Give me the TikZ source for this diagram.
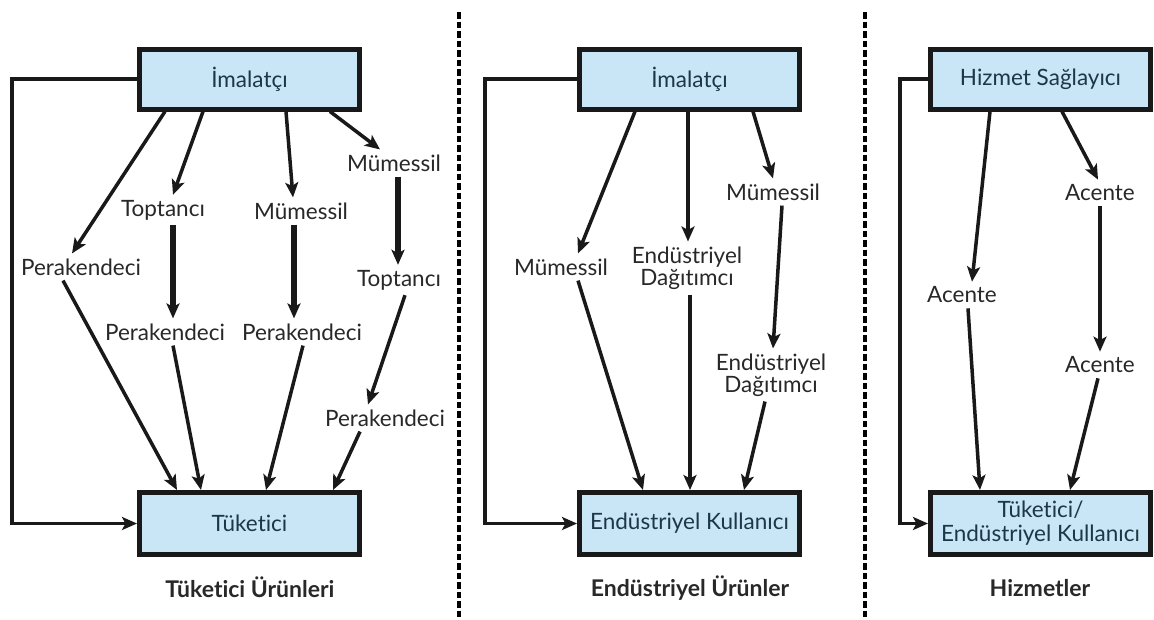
\documentclass[tikz,border=0pt]{standalone}
\usepackage{fontspec}
\setmainfont{Lato}[Ligatures=NoCommon]
\usepackage{xcolor}
\usepackage{tikz}
\usetikzlibrary{arrows.meta,positioning}
\definecolor{boxblue}{RGB}{200,230,246}
\definecolor{boxtext}{RGB}{30,55,70}
\definecolor{labeltext}{RGB}{40,40,40}

\begin{document}
\begin{tikzpicture}[x=1pt, y=-1pt, >={Stealth[length=15pt,width=13pt,inset=3.5pt]},
    chanbox/.style={draw=black!90, line width=5pt, fill=boxblue, minimum width=220pt, minimum height=60pt, text=boxtext, align=center, inner sep=2pt, font=\fontsize{22.5}{24}\selectfont},
    member/.style={text=labeltext, align=center, inner sep=5pt, font=\fontsize{22.5}{22}\selectfont},
    grouptitle/.style={text=labeltext, font=\bfseries\fontsize{23}{25}\selectfont},
    flow/.style={->, draw=black!90, line width=3.5pt},
    bigflow/.style={->, draw=black!90, line width=5.5pt},
    divider/.style={line width=4.5pt, dash pattern=on 6.5pt off 3pt}]
        \useasboundingbox (0,0) rectangle (1154,619);

        % Dividers between the three channel groups
        \draw[divider] (459,12) -- (459,619);
        \draw[divider] (865,12) -- (865,619);

        % Tuketici Urunleri
        \node[chanbox] (imA) at (249.5,79) {İmalatçı};
        \node[chanbox, minimum height=62pt] (tuA) at (249.5,523.5) {Tüketici};
        \node[member] (peA1) at (81,267) {Perakendeci};
        \node[member] (toA1) at (163,210) {Toptancı};
        \node[member] (muA1) at (301,211) {Mümessil};
        \node[member] (muA2) at (394,163) {Mümessil};
        \node[member] (toA2) at (399,280) {Toptancı};
        \node[member] (peA2) at (165,332) {Perakendeci};
        \node[member] (peA3) at (302,332) {Perakendeci};
        \node[member] (peA4) at (385,418) {Perakendeci};
        \node[grouptitle] (tiA) at (250,587) {Tüketici Ürünleri};

        \draw[flow] ([xshift=-84.5pt]imA.south) -- ([xshift=-9pt]peA1.north);
        \draw[flow] ([xshift=-46.5pt]imA.south) -- ([xshift=10pt]toA1.north);
        \draw[flow] ([xshift=36.5pt]imA.south) -- ([xshift=-8pt]muA1.north);
        \draw[flow] ([xshift=80.5pt]imA.south) -- ([xshift=-14pt]muA2.north);
        \draw[bigflow] ([xshift=10pt]toA1.south) -- ([xshift=8pt]peA2.north);
        \draw[bigflow] ([xshift=-7pt]muA1.south) -- ([xshift=-8pt]peA3.north);
        \draw[bigflow] ([xshift=4pt]muA2.south) -- ([xshift=-1pt]toA2.north);
        \draw[flow] ([xshift=6pt]toA2.south) -- ([xshift=-17pt]peA4.north);
        \draw[flow] ([xshift=-18pt]peA1.south) -- ([xshift=-72.5pt]tuA.north);
        \draw[flow] ([xshift=8pt]peA2.south) -- ([xshift=-48.5pt]tuA.north);
        \draw[flow] ([xshift=1pt]peA3.south) -- ([xshift=16.5pt]tuA.north);
        \draw[flow] ([xshift=-25pt]peA4.south) -- ([xshift=83.5pt]tuA.north);
        \draw[flow] (imA.west) -- ++(-125,0) |- (tuA.west);

        % Endustriyel Urunler
        \node[chanbox] (imB) at (689.5,79) {İmalatçı};
        \node[chanbox, minimum height=62pt] (kuB) at (689.5,523.5) {Endüstriyel Kullanıcı};
        \node[member] (muB1) at (561,267) {Mümessil};
        \node[member] (edB1) at (687,268) {Endüstriyel\\Dağıtımcı};
        \node[member] (muB2) at (773,192) {Mümessil};
        \node[member] (edB2) at (771,375) {Endüstriyel\\Dağıtımcı};
        \node[grouptitle] (tiB) at (690,588) {Endüstriyel Ürünler};

        \draw[flow] ([xshift=-54.5pt]imB.south) -- ([xshift=17pt]muB1.north);
        \draw[flow] ([xshift=-1.5pt]imB.south) -- ([xshift=1pt]edB1.north);
        \draw[flow] ([xshift=63.5pt]imB.south) -- (muB2.north);
        \draw[flow] ([xshift=17pt]muB1.south) -- ([xshift=-46.5pt]kuB.north);
        \draw[flow] ([xshift=3pt]edB1.south) -- ([xshift=0.5pt]kuB.north);
        \draw[flow] ([xshift=9pt]muB2.south) -- ([xshift=2pt]edB2.north);
        \draw[flow] ([xshift=-6pt]edB2.south) -- ([xshift=54.5pt]kuB.north);
        \draw[flow] (imB.west) -- ++(-92,0) |- (kuB.west);

        % Hizmetler
        \node[chanbox] (hsC) at (1040.5,79) {Hizmet Sağlayıcı};
        \node[chanbox, minimum height=62pt] (tkC) at (1040.5,523.5) {Tüketici/\\Endüstriyel Kullanıcı};
        \node[member] (acC1) at (962,295) {Acente};
        \node[member] (acC2) at (1100,193) {Acente};
        \node[member] (acC3) at (1100,365) {Acente};
        \node[grouptitle] (tiC) at (1040,588) {Hizmetler};

        \draw[flow] ([xshift=-50.5pt]hsC.south) -- ([xshift=10pt]acC1.north);
        \draw[flow] ([xshift=21.5pt]hsC.south) -- ([xshift=-2pt]acC2.north);
        \draw[flow] (acC2.south) -- (acC3.north);
        \draw[flow] ([xshift=6pt]acC1.south) -- ([xshift=-60.5pt]tkC.north);
        \draw[flow] ([xshift=-2pt]acC3.south) -- ([xshift=29.5pt]tkC.north);
        \draw[flow] (hsC.west) -- ++(-28,0) |- (tkC.west);
    \end{tikzpicture}
\end{document}
